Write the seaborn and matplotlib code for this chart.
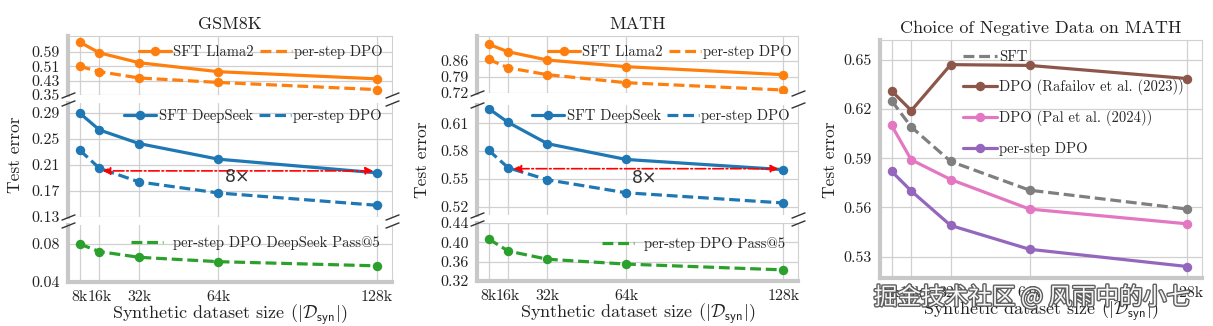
import matplotlib
matplotlib.use("Agg")
import numpy as np
import pandas as pd
import seaborn as sns
import matplotlib.pyplot as plt
from matplotlib.lines import Line2D
import matplotlib.patheffects as pe

# ---------------- data ----------------
sizes = [8, 16, 32, 64, 128]
size_labels = ["8k", "16k", "32k", "64k", "128k"]

gsm_sft_llama = [0.645, 0.585, 0.530, 0.480, 0.440]
gsm_dpo_llama = [0.510, 0.480, 0.445, 0.420, 0.380]
gsm_sft_ds = [0.290, 0.264, 0.243, 0.219, 0.198]
gsm_dpo_ds = [0.233, 0.205, 0.184, 0.167, 0.148]
gsm_pass5 = [0.080, 0.072, 0.066, 0.0614, 0.057]

math_sft_llama = [0.933, 0.900, 0.864, 0.835, 0.800]
math_dpo_llama = [0.867, 0.830, 0.800, 0.765, 0.733]
math_sft_ds = [0.626, 0.611, 0.588, 0.571, 0.560]
math_dpo_ds = [0.581, 0.562, 0.549, 0.535, 0.524]
math_pass5 = [0.407, 0.382, 0.365, 0.355, 0.343]

neg_sft = [0.625, 0.609, 0.588, 0.5705, 0.559]
neg_rafailov = [0.631, 0.619, 0.647, 0.6465, 0.6385]
neg_pal = [0.610, 0.589, 0.577, 0.559, 0.550]
neg_perstep = [0.582, 0.570, 0.549, 0.5345, 0.524]

gsm_ticks_top = [0.35, 0.43, 0.51, 0.59]
gsm_ticks_mid = [0.13, 0.17, 0.21, 0.25, 0.29]
gsm_ticks_bot = [0.04, 0.08]
math_ticks_top = [0.72, 0.79, 0.86]
math_ticks_mid = [0.52, 0.55, 0.58, 0.61]
math_ticks_bot = [0.32, 0.36, 0.40, 0.44]
neg_ticks = [0.53, 0.56, 0.59, 0.62, 0.65]

ORANGE = "#ff7f0e"
BLUE = "#1f77b4"
GREEN = "#2ca02c"
BROWN = "#8c564b"
PINK = "#e377c2"
PURPLE = "#9467bd"
GRAY = "#7f7f7f"

# ---------------- style ----------------
sns.set_theme(style="whitegrid")
plt.rcParams.update({
    "font.family": ["cmr10", "DejaVu Serif"],
    "mathtext.fontset": "cm",
    "axes.formatter.use_mathtext": True,
    "axes.unicode_minus": False,
})

W, H = 1213, 326
fig = plt.figure(figsize=(W / 100, H / 100), dpi=100)

LW = 2.3
MS = 6.8
DASH = (0, (3.4, 1.5))
XLIM = (3.3, 134)


def px_axes(l, t, r, b):
    return fig.add_axes([l / W, 1 - b / H, (r - l) / W, (b - t) / H])


def style(ax, ylim, ticks, top=False, bottom=False, xt=False):
    ax.set_xlim(*XLIM)
    ax.set_ylim(*ylim)
    ax.set_xticks(sizes)
    ax.set_yticks(ticks)
    ax.set_yticklabels([f"{t:.2f}" for t in ticks])
    for s in ax.spines.values():
        s.set_visible(False)
    ax.spines["left"].set_visible(True)
    ax.spines["left"].set_color("#c8c8c8")
    ax.spines["left"].set_linewidth(3)
    ax.spines["right"].set_visible(True)
    ax.spines["right"].set_color("#d0d0d0")
    ax.spines["right"].set_linewidth(0.8)
    if top:
        ax.spines["top"].set_visible(True)
        ax.spines["top"].set_color("#d0d0d0")
        ax.spines["top"].set_linewidth(0.8)
    if bottom:
        ax.spines["bottom"].set_visible(True)
        ax.spines["bottom"].set_color("#c8c8c8")
        ax.spines["bottom"].set_linewidth(3)
    ax.grid(True, color="#d0d0d0", lw=0.9)
    ax.set_axisbelow(True)
    ax.tick_params(length=0, pad=6, labelsize=11.5, colors="#222222")
    if xt:
        ax.set_xticklabels(size_labels)
    else:
        ax.tick_params(labelbottom=False)


def draw(ax, y, color, dashed=False, ms=MS):
    kw = dict(x=sizes, y=y, ax=ax, color=color, marker="o", markersize=ms,
              linewidth=LW, markeredgewidth=0, legend=False, zorder=3)
    if dashed:
        kw["linestyle"] = DASH
    sns.lineplot(**kw)


def h_solid(c):
    return Line2D([], [], color=c, lw=LW, marker="o", ms=MS, mew=0)


def h_dash(c):
    return Line2D([], [], color=c, lw=LW, ls=DASH)


def brk(ax_up, ax_lo):
    kw = dict(marker=[(-1, -0.4), (1, 0.4)], markersize=10, linestyle="none",
              color="#333333", mec="#333333", mew=1, clip_on=False, zorder=5)
    ax_up.plot([0, 1], [0, 0], transform=ax_up.transAxes, **kw)
    ax_lo.plot([0, 1], [1, 1], transform=ax_lo.transAxes, **kw)


def leg(ax, handles, labels, anchor, ncol=1, htp=0.15, **extra):
    ax.legend(handles, labels, loc="center right", bbox_to_anchor=anchor,
              ncol=ncol, frameon=False, fontsize=10.5, handlelength=2.2,
              handletextpad=htp, columnspacing=0.45, borderpad=0,
              borderaxespad=0, **extra)


XLABEL = r"Synthetic dataset size ($|\mathcal{D}_{\mathsf{syn}}|$)"
XL_SIZE = 13
XL_PAD = -1.5

# ---------------- GSM8K ----------------
g_top = px_axes(68, 36, 392, 95)
g_mid = px_axes(68, 103, 392, 217)
g_bot = px_axes(68, 225, 392, 282)

draw(g_top, gsm_sft_llama, ORANGE)
draw(g_top, gsm_dpo_llama, ORANGE, dashed=True)
draw(g_mid, gsm_sft_ds, BLUE)
draw(g_mid, gsm_dpo_ds, BLUE, dashed=True)
draw(g_bot, gsm_pass5, GREEN, dashed=True)

style(g_top, (0.35, 0.679), gsm_ticks_top, top=True)
style(g_mid, (0.13, 0.3055), gsm_ticks_mid)
style(g_bot, (0.04, 0.10), gsm_ticks_bot, bottom=True, xt=True)
brk(g_top, g_mid)
brk(g_mid, g_bot)
g_top.set_title("GSM8K", fontsize=13, pad=5, color="#222222")
g_bot.set_xlabel(XLABEL, fontsize=XL_SIZE, labelpad=XL_PAD, color="#222222")

leg(g_top, [h_solid(ORANGE), h_dash(ORANGE)], ["SFT Llama2", "per-step DPO"],
    (1 - 9 / 324, 0.73), ncol=2)
leg(g_mid, [h_solid(BLUE), h_dash(BLUE)], ["SFT DeepSeek", "per-step DPO"],
    (1 - 10 / 324, 0.886), ncol=2)
leg(g_bot, [h_dash(GREEN)], ["per-step DPO DeepSeek Pass@5"],
    (1 - 12 / 324, 0.69), htp=0.7)

g_mid.annotate("", xy=(17.3, 0.201), xytext=(126.4, 0.201),
               arrowprops=dict(arrowstyle="<|-|>", color="red", lw=1.2,
                               linestyle="-.", shrinkA=0, shrinkB=0,
                               mutation_scale=11), zorder=4)
g_mid.text(66.5, 0.1918, "8×", fontsize=12.5, family="DejaVu Sans",
           ha="left", va="center", color="#333333", zorder=4)

# ---------------- MATH ----------------
m_top = px_axes(477, 36, 798, 93)
m_mid = px_axes(477, 105, 798, 215)
m_bot = px_axes(477, 223, 798, 281)

draw(m_top, math_sft_llama, ORANGE)
draw(m_top, math_dpo_llama, ORANGE, dashed=True)
draw(m_mid, math_sft_ds, BLUE)
draw(m_mid, math_dpo_ds, BLUE, dashed=True)
draw(m_bot, math_pass5, GREEN, dashed=True)

style(m_top, (0.72, 0.969), math_ticks_top, top=True)
style(m_mid, (0.511, 0.6298), math_ticks_mid)
style(m_bot, (0.32, 0.44), math_ticks_bot, bottom=True, xt=True)
brk(m_top, m_mid)
brk(m_mid, m_bot)
m_top.set_title("MATH", fontsize=13, pad=5, color="#222222")
m_bot.set_xlabel(XLABEL, fontsize=XL_SIZE, labelpad=XL_PAD, color="#222222")

leg(m_top, [h_solid(ORANGE), h_dash(ORANGE)], ["SFT Llama2", "per-step DPO"],
    (1 - 6 / 321, 0.72), ncol=2)
leg(m_mid, [h_solid(BLUE), h_dash(BLUE)], ["SFT DeepSeek", "per-step DPO"],
    (1 - 8 / 321, 0.90), ncol=2)
leg(m_bot, [h_dash(GREEN)], ["per-step DPO Pass@5"],
    (1 - 13 / 321, 0.64), htp=0.7)

m_mid.annotate("", xy=(18.2, 0.561), xytext=(126.0, 0.561),
               arrowprops=dict(arrowstyle="<|-|>", color="red", lw=1.2,
                               linestyle="-.", shrinkA=0, shrinkB=0,
                               mutation_scale=11), zorder=4)
m_mid.text(66.2, 0.5512, "8×", fontsize=12.5, family="DejaVu Sans",
           ha="left", va="center", color="#333333", zorder=4)

# ---------------- Choice of negative data ----------------
n_ax = px_axes(880, 40, 1202, 278)
draw(n_ax, neg_sft, GRAY, dashed=True)
draw(n_ax, neg_rafailov, BROWN)
draw(n_ax, neg_pal, PINK)
draw(n_ax, neg_perstep, PURPLE)
style(n_ax, (0.517, 0.662), neg_ticks, top=True, bottom=True, xt=True)
n_ax.set_title("Choice of Negative Data on MATH", fontsize=13, pad=5,
               color="#222222")
n_ax.set_xlabel(XLABEL, fontsize=XL_SIZE, labelpad=XL_PAD, color="#222222")
n_ax.legend([h_dash(GRAY), h_solid(BROWN), h_solid(PINK), h_solid(PURPLE)],
            ["SFT", "DPO (Rafailov et al. (2023))", "DPO (Pal et al. (2024))",
             "per-step DPO"],
            loc="upper left", bbox_to_anchor=(0.258, 1 - 10 / 238),
            frameon=False, fontsize=10.5, handlelength=2.3,
            handletextpad=0.15, labelspacing=1.05, borderpad=0,
            borderaxespad=0)

# ---------------- y labels ----------------
for x, y in [(15, 155), (422, 160), (830, 160)]:
    fig.text(x / W, 1 - y / H, "Test error", rotation=90, ha="center",
             va="center", fontsize=12.5, color="#222222")

# ---------------- watermark ----------------
fig.text(1032 / W, 1 - 297 / H, "掘金技术社区 @ 风雨中的小七",
         family=["Noto Sans CJK SC", "DejaVu Sans"], fontsize=17,
         color="white", ha="center", va="center", alpha=0.95, zorder=10,
         path_effects=[pe.Stroke(linewidth=2, foreground="#555555"),
                       pe.Normal()])

fig.savefig("out.png", dpi=100)
